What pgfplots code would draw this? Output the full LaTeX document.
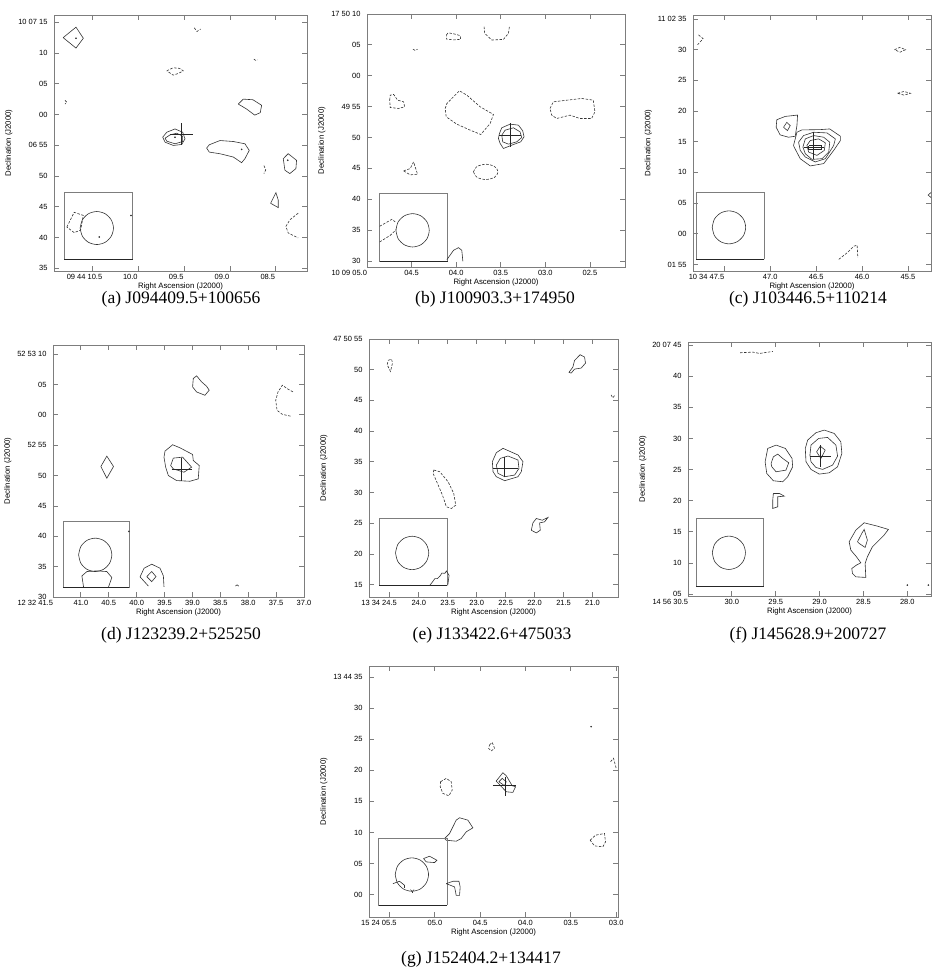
\documentclass[border=0pt]{standalone}
\usepackage{pgfplots}
\pgfplotsset{compat=1.18}
\usepackage{fontspec}
\setmainfont{Liberation Serif}
\newfontfamily\arialf{Liberation Sans}
\definecolor{axgray}{RGB}{125,125,125}
\pgfplotsset{
  rmap/.style={scale only axis, x dir=reverse, clip=true,
    axis line style={axgray, line width=0.8pt},
    tick style={axgray, line width=0.8pt},
    major tick length=5pt, tick align=inside, minor tick num=0,
    ticklabel style={font=\arialf\fontsize{7.5}{8}\selectfont, text=black},
    label style={font=\arialf\fontsize{7.8}{9}\selectfont},
    xlabel={Right Ascension (J2000)}, ylabel={Declination (J2000)},
    xlabel style={yshift=4pt}, ylabel style={yshift=-1pt},
    yticklabel style={xshift=-3pt},
  },
  c/.style={black!80, line width=0.6pt, mark=none},
  n/.style={black!80, line width=0.6pt, mark=none, dash pattern=on 2.5pt off 1.5pt},
  bx/.style={axgray, line width=0.9pt, mark=none},
  bb/.style={black!85, line width=1.1pt, mark=none},
  cr/.style={black!85, line width=0.7pt, mark=none},
  dt/.style={only marks, mark=*, mark size=0.6pt, black!80},
  circ/.style={black!80, line width=0.6pt, mark=none, smooth},
}
\begin{document}
\begin{tikzpicture}
\useasboundingbox (0,0) rectangle (933pt,969pt);

% ---------------- (a)
\begin{axis}[rmap, at={(54pt,698pt)}, anchor=south west, width=253pt, height=256pt,
  xmin=8.16, xmax=10.92, ymin=34.56, ymax=76.18,
  xtick={10.5,10,9.5,9,8.5}, xticklabels={09 44 10.5,10.0,09.5,09.0,08.5},
  xticklabel style={xshift=-8pt},
  ytick={35,40,45,50,55,60,65,70,75}, yticklabels={35,40,45,50,06 55,00,05,10,10 07 15}]
\addplot[c] coordinates {(10.82,72.5)(10.68,74.2)(10.60,72.4)(10.68,70.8)(10.82,72.5)};
\addplot[dt] coordinates {(10.68,72.4)};
\addplot[n] coordinates {(9.39,74.1)(9.36,73.5)(9.32,73.9)};
\addplot[n] coordinates {(9.69,67.1)(9.62,67.6)(9.55,67.5)(9.51,67.1)(9.56,66.7)(9.62,66.4)(9.69,67.1)};
\addplot[n] coordinates {(8.74,69.0)(8.72,68.8)(8.70,68.9)};
\addplot[n] coordinates {(10.80,62.3)(10.78,62.0)(10.80,61.7)};
\addplot[c] coordinates {(8.91,61.7)(8.855,62.5)(8.75,62.4)(8.655,61.5)(8.67,60.3)(8.73,59.9)(8.82,60.9)(8.91,61.7)};
\addplot[c] coordinates {(9.734,56.31)(9.69,57.12)(9.60,57.65)(9.516,57.12)(9.491,56.04)(9.527,55.13)(9.618,54.97)(9.708,55.50)(9.734,56.31)};
\addplot[c] coordinates {(9.708,56.15)(9.654,56.69)(9.581,56.96)(9.516,56.47)(9.516,55.61)(9.60,55.24)(9.69,55.67)(9.708,56.15)};
\addplot[dt] coordinates {(9.60,56.3)};
\addplot[cr] coordinates {(9.527,58.6)(9.527,55.0)};
\addplot[cr] coordinates {(9.654,56.85)(9.40,56.85)};
\addplot[c] coordinates {(9.255,54.54)(9.226,55.08)(9.109,55.77)(8.964,55.61)(8.837,55.24)(8.79,54.16)(8.837,52.82)(8.873,52.17)(8.964,53.09)(9.109,53.62)(9.226,53.89)(9.255,54.54)};
\addplot[dt] coordinates {(8.873,54.32)};
\addplot[n] coordinates {(8.63,51.7)(8.61,51.0)(8.63,50.4)};
\addplot[c] coordinates {(8.419,52.82)(8.365,53.63)(8.274,52.55)(8.281,51.21)(8.347,50.4)(8.401,50.94)(8.419,52.82)};
\addplot[dt] coordinates {(8.37,52.55)};
\addplot[c] coordinates {(8.557,45.57)(8.499,47.29)(8.474,46.11)(8.474,44.87)(8.557,45.57)};
\addplot[n] coordinates {(8.256,43.96)(8.347,42.88)(8.39,41.81)(8.365,40.74)(8.256,39.93)};
\addplot[bx] coordinates {(10.061,36.44)(10.809,36.44)(10.809,47.29)(10.061,47.29)(10.061,36.44)};
\addplot[bb] coordinates {(10.061,36.44)(10.809,36.44)};
\addplot[circ] coordinates {(10.635,41.54)(10.610,42.88)(10.544,43.87)(10.453,44.23)(10.362,43.87)(10.296,42.88)(10.271,41.54)(10.296,40.20)(10.362,39.22)(10.453,38.86)(10.544,39.22)(10.610,40.20)(10.635,41.54)};
\addplot[n] coordinates {(10.78,41.7)(10.70,44.1)(10.60,43.6)(10.63,41.2)(10.70,40.8)(10.78,41.7)};
\addplot[dt] coordinates {(10.427,40.09)(10.079,43.58)};
\end{axis}

% ---------------- (b)
\begin{axis}[rmap, at={(367pt,702pt)}, anchor=south west, width=258pt, height=253pt,
  xmin=2.107, xmax=5.0, ymin=29.03, ymax=70,
  xtick={5,4.5,4,3.5,3,2.5}, xticklabels={{\makebox[0pt][r]{10 09 05.0}},04.5,04.0,03.5,03.0,02.5},
  ytick={30,35,40,45,50,55,60,65,70}, yticklabels={30,35,40,45,50,49 55,00,05,17 50 10}]
\addplot[n] coordinates {(4.11,66.6)(4.09,66.95)(4.03,66.8)(3.955,66.5)(3.95,65.9)(4.03,65.8)(4.11,65.95)(4.11,66.6)};
\addplot[n] coordinates {(3.687,67.95)(3.68,66.86)(3.601,65.78)(3.47,65.89)(3.414,66.86)(3.403,67.95)};
\addplot[n] coordinates {(4.485,64.3)(4.46,64.1)(4.433,64.3)};
\addplot[n] coordinates {(4.746,56.05)(4.739,56.86)(4.701,56.97)(4.657,56.05)(4.59,55.78)(4.578,54.97)(4.646,54.70)(4.739,54.86)(4.746,56.05)};
\addplot[n] coordinates {(4.123,54.70)(4.104,55.51)(3.963,57.57)(3.881,56.86)(3.731,54.97)(3.582,53.73)(3.619,52.27)(3.724,50.49)(3.843,51.19)(3.993,52.16)(4.112,53.35)(4.123,54.70)};
\addplot[c] coordinates {(3.515,50.65)(3.489,51.57)(3.396,52.16)(3.302,52.0)(3.254,51.08)(3.239,50.11)(3.276,49.30)(3.377,48.76)(3.47,48.22)(3.507,49.03)(3.526,49.84)(3.515,50.65)};
\addplot[c] coordinates {(3.489,50.38)(3.451,51.19)(3.358,51.57)(3.284,50.92)(3.265,50.0)(3.321,49.30)(3.414,48.92)(3.478,49.30)(3.489,50.38)};
\addplot[cr] coordinates {(3.396,52.27)(3.396,48.49)};
\addplot[cr] coordinates {(3.519,50.38)(3.272,50.38)};
\addplot[n] coordinates {(2.948,54.70)(2.91,55.78)(2.687,56.16)(2.593,56.32)(2.463,56.05)(2.444,54.16)(2.481,53.08)(2.612,53.08)(2.724,53.62)(2.873,53.08)(2.929,53.62)(2.948,54.70)};
\addplot[n] coordinates {(4.59,44.59)(4.515,44.97)(4.478,46.05)(4.433,44.05)(4.515,43.95)(4.59,44.59)};
\addplot[n, smooth] coordinates {(3.806,44.43)(3.766,45.31)(3.668,45.67)(3.570,45.31)(3.530,44.43)(3.570,43.55)(3.668,43.19)(3.766,43.55)(3.806,44.43)};
\addplot[bx] coordinates {(4.093,29.95)(4.858,29.95)(4.858,40.92)(4.093,40.92)(4.093,29.95)};
\addplot[bb] coordinates {(4.093,29.95)(4.858,29.95)};
\addplot[circ] coordinates {(4.676,34.97)(4.651,36.32)(4.582,37.31)(4.489,37.67)(4.396,37.31)(4.327,36.32)(4.302,34.97)(4.327,33.62)(4.396,32.63)(4.489,32.27)(4.582,32.63)(4.651,33.62)(4.676,34.97)};
\addplot[n] coordinates {(4.858,35.62)(4.72,36.76)(4.683,36.32)};
\addplot[n] coordinates {(4.858,33.08)(4.739,34.16)(4.672,35.08)};
\addplot[c] coordinates {(4.104,30.22)(4.03,31.73)(3.974,32.16)(3.937,31.73)(3.925,29.95)};
\end{axis}

% ---------------- (c)
\begin{axis}[rmap, at={(693pt,698pt)}, anchor=south west, width=238pt, height=256pt,
  xmin=45.25, xmax=47.84, ymin=-6.07, ymax=35.65,
  xtick={47.5,47,46.5,46,45.5}, xticklabels={{\makebox[0pt][r]{10 34 47.5}},47.0,46.5,46.0,45.5},
  ytick={-5,0,5,10,15,20,25,30,35}, yticklabels={01 55,00,05,10,15,20,25,30,11 02 35}]
\addplot[n] coordinates {(47.78,32.4)(47.73,31.8)(47.79,30.8)};
\addplot[n] coordinates {(45.647,29.99)(45.587,30.39)(45.527,29.99)(45.587,29.59)(45.647,29.99)};
\addplot[n] coordinates {(45.614,22.89)(45.544,23.19)(45.474,22.89)(45.544,22.59)(45.614,22.89)};
\addplot[c] coordinates {(46.935,17.35)(46.928,18.58)(46.837,19.12)(46.702,19.34)(46.709,17.62)(46.728,15.89)(46.801,15.73)(46.892,16.11)(46.935,17.35)};
\addplot[c] coordinates {(46.855,17.35)(46.819,18.16)(46.782,17.62)(46.812,16.81)(46.855,17.35)};
\addplot[c] coordinates {(46.746,14.39)(46.709,16.54)(46.655,16.92)(46.454,16.97)(46.352,17.08)(46.236,15.89)(46.236,15.19)(46.309,13.58)(46.418,11.43)(46.564,11.05)(46.673,12.23)(46.739,14.12)(46.746,14.39)};
\addplot[c] coordinates {(46.691,14.92)(46.637,16.0)(46.527,16.54)(46.382,16.43)(46.291,15.46)(46.309,14.39)(46.400,12.23)(46.509,11.70)(46.618,12.50)(46.673,13.58)(46.691,14.92)};
\addplot[c] coordinates {(46.644,14.12)(46.618,15.46)(46.527,16.0)(46.418,15.73)(46.352,14.92)(46.363,13.31)(46.436,12.23)(46.546,12.12)(46.618,13.04)(46.644,14.12)};
\addplot[c] coordinates {(46.60,14.39)(46.564,15.19)(46.473,15.46)(46.40,14.82)(46.411,13.58)(46.491,12.77)(46.582,13.31)(46.60,14.39)};
\addplot[cr] coordinates {(46.527,16.54)(46.527,12.23)};
\addplot[cr] coordinates {(46.637,14.12)(46.418,14.12)};
\addplot[cr] coordinates {(46.58,14.35)(46.44,14.35)(46.44,13.75)(46.58,13.75)(46.58,14.35)};
\addplot[c] coordinates {(45.20,7.39)(45.281,6.31)(45.20,5.24)};
\addplot[n] coordinates {(46.254,-4.18)(46.163,-3.11)(46.09,-2.03)(46.054,-1.87)(46.046,-3.91)};
\addplot[bx] coordinates {(47.063,-4.18)(47.802,-4.18)(47.802,6.69)(47.063,6.69)(47.063,-4.18)};
\addplot[bb] coordinates {(47.063,-4.18)(47.802,-4.18)};
\addplot[circ] coordinates {(47.631,1.04)(47.607,2.385)(47.540,3.37)(47.449,3.73)(47.358,3.37)(47.291,2.385)(47.267,1.04)(47.291,-0.305)(47.358,-1.29)(47.449,-1.65)(47.540,-1.29)(47.607,-0.305)(47.631,1.04)};
\end{axis}

% ---------------- (d)
\begin{axis}[rmap, at={(53pt,372pt)}, anchor=south west, width=251pt, height=252pt,
  xmin=37.0, xmax=41.5, ymin=30, ymax=71.5,
  xtick={41.5,41,40.5,40,39.5,39,38.5,38,37.5,37}, xticklabels={{\makebox[0pt][r]{12 32 41.5}},41.0,40.5,40.0,39.5,39.0,38.5,38.0,37.5,37.0},
  ytick={30,35,40,45,50,55,60,65,70}, yticklabels={30,35,40,45,50,52 55,00,05,52 53 10}]
\addplot[c] coordinates {(38.997,64.60)(38.985,65.98)(38.926,66.42)(38.836,65.43)(38.747,64.71)(38.699,64.05)(38.777,63.22)(38.926,63.77)(38.997,64.60)};
\addplot[n] coordinates {(37.197,63.77)(37.305,64.33)(37.388,64.88)(37.466,63.77)(37.507,62.40)(37.483,60.74)(37.388,60.08)(37.227,59.75)};
\addplot[c] coordinates {(40.642,51.49)(40.535,53.20)(40.415,51.49)(40.535,49.56)(40.642,51.49)};
\addplot[c] coordinates {(39.510,53.03)(39.492,54.02)(39.355,55.07)(39.224,54.57)(38.997,53.47)(38.985,52.48)(38.878,51.65)(38.896,49.45)(39.045,49.06)(39.283,49.17)(39.432,50.0)(39.480,51.38)(39.510,53.03)};
\addplot[c] coordinates {(39.390,51.65)(39.343,52.87)(39.176,53.03)(39.015,51.38)(39.152,50.55)(39.343,51.10)(39.390,51.65)};
\addplot[cr] coordinates {(39.194,52.92)(39.194,49.17)};
\addplot[cr] coordinates {(39.372,51.10)(39.015,51.10)};
\addplot[c] coordinates {(39.79,31.8)(39.939,33.31)(39.867,34.74)(39.730,35.40)(39.581,34.74)(39.521,33.47)(39.510,31.65)};
\addplot[c] coordinates {(39.819,33.36)(39.730,34.19)(39.653,33.36)(39.730,32.53)(39.819,33.36)};
\addplot[c] coordinates {(38.23,31.8)(38.2,32.0)(38.17,31.8)};
\addplot[bx] coordinates {(40.129,31.54)(41.321,31.54)(41.321,42.45)(40.129,42.45)(40.129,31.54)};
\addplot[bb] coordinates {(40.129,31.54)(41.321,31.54)};
\addplot[circ] coordinates {(41.041,36.94)(41.001,38.315)(40.892,39.32)(40.743,39.69)(40.594,39.32)(40.485,38.315)(40.445,36.94)(40.485,35.565)(40.594,34.56)(40.743,34.19)(40.892,34.56)(41.001,35.565)(41.041,36.94)};
\addplot[c] coordinates {(40.952,31.65)(40.982,33.47)(40.892,34.19)(40.713,34.30)(40.535,34.19)(40.445,33.20)(40.505,31.65)};
\addplot[dt] coordinates {(40.14,40.8)};
\end{axis}

% ---------------- (e)
\begin{axis}[rmap, at={(369pt,372pt)}, anchor=south west, width=249pt, height=258pt,
  xmin=20.56, xmax=24.86, ymin=13.0, ymax=55,
  xtick={24.5,24,23.5,23,22.5,22,21.5,21}, xticklabels={{\hspace*{14pt}\makebox[0pt][r]{13 34 24.5}},24.0,23.5,23.0,22.5,22.0,21.5,21.0},
  ytick={15,20,25,30,35,40,45,50,55}, yticklabels={15,20,25,30,35,40,45,50,47 50 55}]
\addplot[n] coordinates {(24.529,51.52)(24.471,51.73)(24.454,51.08)(24.489,49.72)(24.546,50.81)(24.529,51.52)};
\addplot[c] coordinates {(21.408,49.56)(21.339,50.43)(21.310,51.52)(21.213,52.44)(21.138,52.06)(21.121,51.08)(21.195,50.27)(21.310,50.10)(21.368,49.45)(21.408,49.56)};
\addplot[n] coordinates {(20.68,45.9)(20.65,45.4)(20.62,45.8)};
\addplot[c] coordinates {(22.730,35.03)(22.661,36.50)(22.546,37.20)(22.287,36.12)(22.201,35.03)(22.230,33.39)(22.287,32.58)(22.517,31.93)(22.661,32.58)(22.718,33.39)(22.730,35.03)};
\addplot[c] coordinates {(22.661,34.48)(22.592,35.57)(22.460,35.95)(22.287,35.30)(22.270,33.94)(22.345,32.85)(22.517,32.58)(22.632,33.12)(22.661,34.48)};
\addplot[cr] coordinates {(22.517,35.84)(22.517,32.58)};
\addplot[cr] coordinates {(22.718,33.94)(22.287,33.94)};
\addplot[n] coordinates {(23.741,33.67)(23.638,33.39)(23.494,31.76)(23.397,29.86)(23.362,27.95)(23.437,27.41)(23.523,27.68)(23.592,29.59)(23.678,31.49)(23.753,33.12)(23.741,33.67)};
\addplot[c] coordinates {(22.057,23.87)(22.029,25.07)(21.971,25.78)(21.868,25.50)(21.770,25.94)(21.828,25.23)(21.914,25.07)(21.902,23.87)(21.971,23.43)(22.057,23.87)};
\addplot[bx] coordinates {(23.506,14.89)(24.684,14.89)(24.684,25.78)(23.506,25.78)(23.506,14.89)};
\addplot[bb] coordinates {(23.506,14.89)(24.684,14.89)};
\addplot[circ] coordinates {(24.402,20.17)(24.364,21.53)(24.259,22.53)(24.115,22.89)(23.972,22.53)(23.867,21.53)(23.828,20.17)(23.867,18.81)(23.972,17.81)(24.115,17.45)(24.259,17.81)(24.364,18.81)(24.402,20.17)};
\addplot[c] coordinates {(23.810,14.89)(23.76,15.5)(23.724,15.98)(23.68,16.0)(23.638,16.36)(23.60,16.9)(23.55,16.85)(23.523,17.23)(23.477,16.52)(23.49,15.6)(23.50,14.89)};
\end{axis}

% ---------------- (f)
\begin{axis}[rmap, at={(688pt,373pt)}, anchor=south west, width=243pt, height=254pt,
  xmin=27.73, xmax=30.5, ymin=4.7, ymax=45.5,
  xtick={30.5,30,29.5,29,28.5,28}, xticklabels={{\makebox[0pt][r]{14 56 30.5}},30.0,29.5,29.0,28.5,28.0},
  ytick={5,10,15,20,25,30,35,40,45}, yticklabels={05,10,15,20,25,30,35,40,20 07 45}]
\addplot[n] coordinates {(29.905,43.77)(29.761,43.88)(29.686,43.66)(29.534,43.98)};
\addplot[c] coordinates {(29.163,28.40)(29.136,29.74)(29.042,30.92)(28.947,31.35)(28.833,30.81)(28.758,29.47)(28.746,27.60)(28.795,25.46)(28.890,24.49)(29.004,24.28)(29.098,25.03)(29.155,26.26)(29.163,28.40)};
\addplot[c] coordinates {(29.110,27.33)(29.098,28.94)(29.011,30.01)(28.909,30.17)(28.814,28.94)(28.795,27.17)(28.852,25.72)(28.966,25.03)(29.042,25.35)(29.098,26.26)(29.110,27.33)};
\addplot[c] coordinates {(29.034,27.86)(28.992,28.77)(28.936,28.13)(28.985,26.79)(29.034,27.86)};
\addplot[cr] coordinates {(28.996,28.94)(28.996,25.46)};
\addplot[cr] coordinates {(29.110,27.17)(28.871,27.17)};
\addplot[c] coordinates {(29.621,26.26)(29.591,28.40)(29.496,28.94)(29.390,28.40)(29.314,26.79)(29.307,25.46)(29.364,23.85)(29.420,23.05)(29.527,23.21)(29.602,24.38)(29.621,26.26)};
\addplot[c] coordinates {(29.553,25.99)(29.527,27.06)(29.477,27.49)(29.420,26.79)(29.352,26.10)(29.383,24.92)(29.496,24.65)(29.545,25.46)(29.553,25.99)};
\addplot[c] coordinates {(29.527,21.17)(29.458,21.17)(29.402,20.74)(29.477,20.64)(29.477,19.03)(29.534,18.76)(29.534,20.10)(29.527,21.17)};
\addplot[c] coordinates {(28.663,13.41)(28.587,15.28)(28.492,16.46)(28.341,15.92)(28.216,15.39)(28.265,14.48)(28.398,12.60)(28.455,11.00)(28.481,9.93)(28.473,7.68)(28.587,7.78)(28.625,8.32)(28.633,9.12)(28.580,9.66)(28.530,10.03)(28.580,11.00)(28.644,12.07)(28.663,13.41)};
\addplot[c] coordinates {(28.568,13.41)(28.519,14.75)(28.492,15.39)(28.455,13.68)(28.481,12.50)(28.549,13.14)(28.568,13.41)};
\addplot[dt] coordinates {(28.0,6.45)(27.76,6.45)};
\addplot[bx] coordinates {(29.636,6.28)(30.405,6.28)(30.405,17.15)(29.636,17.15)(29.636,6.28)};
\addplot[bb] coordinates {(29.636,6.28)(30.405,6.28)};
\addplot[circ] coordinates {(30.223,11.64)(30.198,12.98)(30.129,13.96)(30.034,14.32)(29.940,13.96)(29.870,12.98)(29.845,11.64)(29.870,10.30)(29.940,9.32)(30.034,8.96)(30.129,9.32)(30.198,10.30)(30.223,11.64)};
\end{axis}

% ---------------- (g)
\begin{axis}[rmap, at={(369pt,52pt)}, anchor=south west, width=249pt, height=251pt,
  xmin=2.98, xmax=5.727, ymin=-3.6, ymax=36.8,
  xtick={5.5,5,4.5,4,3.5,3}, xticklabels={{\hspace*{14pt}\makebox[0pt][r]{15 24 05.5}},05.0,04.5,04.0,03.5,03.0},
  ytick={0,5,10,15,20,25,30,35}, yticklabels={00,05,10,15,20,25,30,13 44 35}]
\addplot[dt] coordinates {(3.276,27.04)};
\addplot[n] coordinates {(4.397,24.09)(4.368,24.52)(4.342,23.55)(4.379,23.12)(4.408,23.55)(4.397,24.09)};
\addplot[n] coordinates {(3.062,21.40)(3.029,21.94)(3.0,20.32)};
\addplot[n] coordinates {(4.938,18.17)(4.875,18.71)(4.82,18.17)(4.809,16.83)(4.846,15.91)(4.912,16.29)(4.941,17.37)(4.938,18.17)};
\addplot[c] coordinates {(4.324,18.28)(4.250,19.62)(4.213,19.14)(4.147,17.53)(4.110,17.37)(4.140,16.45)(4.213,16.56)(4.324,18.28)};
\addplot[c] coordinates {(4.294,18.17)(4.257,18.71)(4.213,18.17)(4.232,17.53)(4.294,18.17)};
\addplot[cr] coordinates {(4.224,18.98)(4.224,15.86)};
\addplot[cr] coordinates {(4.360,17.63)(4.103,17.63)};
\addplot[c] coordinates {(4.893,9.03)(4.838,9.84)(4.765,11.99)(4.728,12.37)(4.636,11.99)(4.581,10.75)(4.654,10.11)(4.710,9.03)(4.765,8.60)(4.875,8.76)(4.893,9.03)};
\addplot[n] coordinates {(3.287,8.76)(3.228,9.57)(3.129,9.84)(3.118,8.49)(3.147,7.69)(3.239,7.85)(3.287,8.76)};
\addplot[bx] coordinates {(4.864,-1.72)(5.618,-1.72)(5.618,9.03)(4.864,9.03)(4.864,-1.72)};
\addplot[bb] coordinates {(4.864,-1.72)(5.618,-1.72)};
\addplot[circ] coordinates {(5.438,3.23)(5.413,4.575)(5.346,5.56)(5.254,5.92)(5.162,5.56)(5.095,4.575)(5.070,3.23)(5.095,1.885)(5.162,0.90)(5.254,0.54)(5.346,0.90)(5.413,1.885)(5.438,3.23)};
\addplot[c] coordinates {(5.125,5.81)(5.059,6.18)(4.978,5.54)(5.004,5.16)(5.096,5.27)(5.125,5.81)};
\addplot[c] coordinates {(5.463,1.77)(5.39,2.15)(5.335,1.51)(5.335,1.08)};
\addplot[c] coordinates {(5.27,0.8)(5.25,0.5)(5.23,0.8)};
\addplot[c] coordinates {(5.25,0.5)(5.25,0.2)};
\addplot[c] coordinates {(4.875,1.77)(4.801,2.15)(4.735,2.15)(4.721,1.24)(4.728,-0.11)(4.765,-0.11)(4.783,1.24)(4.875,1.77)};
\end{axis}

% captions
\begin{scope}[every node/.style={font=\fontsize{17.5}{20}\selectfont, inner sep=0pt}]
\node at (181pt,670pt) {(a) J094409.5+100656};
\node at (495pt,670pt) {(b) J100903.3+174950};
\node at (808pt,670pt) {(c) J103446.5+110214};
\node at (181pt,334pt) {(d) J123239.2+525250};
\node at (492pt,334pt) {(e) J133422.6+475033};
\node at (808pt,334pt) {(f) J145628.9+200727};
\node at (481pt,10pt) {(g) J152404.2+134417};
\end{scope}
\end{tikzpicture}
\end{document}
